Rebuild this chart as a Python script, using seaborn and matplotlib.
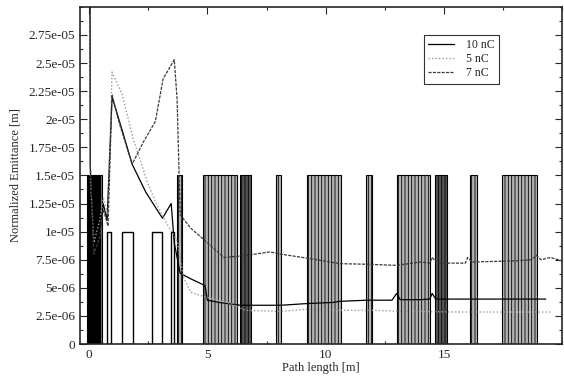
import matplotlib
matplotlib.use("Agg")
import matplotlib.pyplot as plt
from matplotlib.ticker import FuncFormatter, MultipleLocator
import seaborn as sns

# emittance curves, x in m, y in m
x_10nc = [0.02, 0.05, 0.17, 0.45, 0.6, 0.76, 0.97, 1.4, 1.82, 2.4, 3.1, 3.47, 3.6,
          3.85, 4.3, 4.9, 5.0, 5.5, 6.4, 8.1, 9.2, 10.3, 10.6, 11.75, 12.8, 13.0,
          13.15, 14.0, 14.4, 14.5, 14.65, 15.0, 19.3]
y_10nc = [6e-05, 1.6e-05, 7.5e-06, 1.0e-05, 1.25e-05, 1.1e-05, 2.2e-05, 1.9e-05,
          1.6e-05, 1.35e-05, 1.12e-05, 1.25e-05, 9.0e-06, 6.3e-06, 5.8e-06, 5.2e-06,
          3.9e-06, 3.7e-06, 3.45e-06, 3.45e-06, 3.6e-06, 3.7e-06, 3.8e-06, 3.9e-06,
          3.9e-06, 4.5e-06, 3.95e-06, 3.95e-06, 4.0e-06, 4.5e-06, 4.0e-06, 4.0e-06,
          4.0e-06]

x_7nc = [0.02, 0.05, 0.2, 0.45, 0.6, 0.8, 0.97, 1.3, 1.82, 2.3, 2.8, 3.13, 3.6, 3.72,
         3.85, 4.3, 4.9, 5.7, 6.7, 7.65, 8.1, 9.35, 10.6, 11.75, 13.0, 14.0, 14.4,
         14.5, 14.7, 15.2, 15.9, 16.0, 16.2, 18.0, 18.7, 18.9, 19.1, 19.5, 20.0]
y_7nc = [6e-05, 1.6e-05, 8.0e-06, 9.5e-06, 1.2e-05, 1.05e-05, 2.22e-05, 1.95e-05,
         1.6e-05, 1.8e-05, 1.98e-05, 2.36e-05, 2.53e-05, 2.18e-05, 1.15e-05,
         1.03e-05, 9.2e-06, 7.7e-06, 7.9e-06, 8.2e-06, 8.0e-06, 7.6e-06, 7.15e-06,
         7.1e-06, 7.0e-06, 7.3e-06, 7.2e-06, 7.7e-06, 7.2e-06, 7.2e-06, 7.2e-06,
         7.7e-06, 7.3e-06, 7.4e-06, 7.5e-06, 7.9e-06, 7.5e-06, 7.7e-06, 7.4e-06]

x_5nc = [0.02, 0.1, 0.2, 0.45, 0.6, 0.8, 0.97, 1.4, 1.6, 1.86, 2.28, 2.5, 2.8, 3.34,
         3.72, 4.0, 4.3, 4.9, 6.0, 6.6, 8.1, 9.2, 10.5, 12.0, 13.5, 15.7, 19.5]
y_5nc = [1.6e-05, 1.3e-05, 9.0e-06, 1.1e-05, 1.3e-05, 1.15e-05, 2.42e-05, 2.22e-05,
         2.05e-05, 1.83e-05, 1.56e-05, 1.42e-05, 1.27e-05, 1.05e-05, 9.2e-06,
         5.9e-06, 4.6e-06, 4.2e-06, 3.6e-06, 3.0e-06, 2.9e-06, 3.1e-06, 3.0e-06,
         3.0e-06, 2.9e-06, 2.85e-06, 2.85e-06]

# beamline elements: start, end (m)
cav_start = [0.76, 1.4, 2.66, 3.47]
cav_end = [0.93, 1.86, 3.08, 3.6]
cav_height = 1.0e-05

grp_start = [3.72, 4.82, 6.38, 7.9, 9.2, 11.7, 13.0, 14.6, 16.1, 17.45]
grp_end = [3.93, 6.26, 6.85, 8.1, 10.65, 11.95, 14.4, 15.12, 16.4, 18.95]
grp_dark = [False, False, True, False, False, False, False, True, False, False]
grp_height = 1.5e-05

gun_start = [-0.08, 0.47]
gun_end = [0.47, 0.55]
gun_height = [1.5e-05, 1.5e-05]

x_ticks = [0, 5, 10, 15]

sns.set_style("ticks")
plt.rcParams["font.family"] = ["Liberation Serif", "DejaVu Serif"]
plt.rcParams["hatch.linewidth"] = 0.6

fig = plt.figure(figsize=(5.64, 3.81), dpi=100)
ax = fig.add_axes([0.142, 0.097, 0.855, 0.885])

# gun region
ax.bar(gun_start, gun_height, width=[e - s for s, e in zip(gun_start, gun_end)],
       align="edge", color=["black", "#777777"], edgecolor="black", linewidth=0.8,
       zorder=1)

# cavities (open boxes)
ax.bar(cav_start, cav_height, width=[e - s for s, e in zip(cav_start, cav_end)],
       align="edge", facecolor="white", edgecolor="black", linewidth=1.0, zorder=1)

# dense element groups
for s, e, dark in zip(grp_start, grp_end, grp_dark):
    ax.bar(s, grp_height, width=e - s, align="edge",
           facecolor="#555555" if dark else "#b4b4b4",
           edgecolor="black", hatch="|||||", linewidth=0.8, zorder=1)

sns.lineplot(x=x_10nc, y=y_10nc, ax=ax, sort=False, estimator=None,
             color="black", linewidth=0.9, label="10 nC", zorder=3)
sns.lineplot(x=x_5nc, y=y_5nc, ax=ax, sort=False, estimator=None,
             color="#9a9a9a", linewidth=1.0, linestyle=(0, (1, 1.5)),
             label="5 nC", zorder=3)
sns.lineplot(x=x_7nc, y=y_7nc, ax=ax, sort=False, estimator=None,
             color="#3a3a3a", linewidth=0.9, linestyle=(0, (2.5, 1)),
             label="7 nC", zorder=3)

ax.set_xlim(-0.38, 20.0)
ax.set_ylim(0, 3.0e-05)
ax.set_xticks(x_ticks)
ax.xaxis.set_minor_locator(MultipleLocator(2.5))
ax.set_yticks([i * 2.5e-06 for i in range(12)])
ax.yaxis.set_minor_locator(MultipleLocator(1.25e-06))
ax.yaxis.set_major_formatter(FuncFormatter(lambda v, _: f"{v:g}"))
ax.tick_params(which="both", direction="in", top=True, right=True,
               labelsize=9.5, width=0.8)
ax.tick_params(which="major", length=5)
ax.tick_params(which="minor", length=2.5)
for sp in ax.spines.values():
    sp.set_linewidth(1.2)

ax.set_xlabel("Path length [m]", fontsize=9, labelpad=1)
ax.set_ylabel("Normalized Emittance [m]", fontsize=9, labelpad=5)

leg = ax.legend(loc="upper left", bbox_to_anchor=(0.70, 0.935), fontsize=8.5,
                frameon=True, fancybox=False, edgecolor="black",
                handlelength=2.2, handletextpad=1.0, labelspacing=0.15,
                borderpad=0.4)
leg.get_frame().set_linewidth(0.8)

fig.savefig("out.png", dpi=100)
plt.close()
